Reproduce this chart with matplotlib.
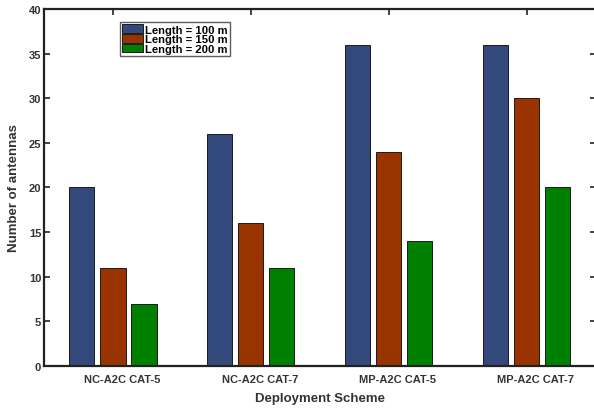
import matplotlib
matplotlib.use('Agg')
import matplotlib.pyplot as plt
import matplotlib.transforms as mtransforms
import numpy as np

SCHEMES   = ["NC-A2C CAT-5", "NC-A2C CAT-7", "MP-A2C CAT-5", "MP-A2C CAT-7"]
LENGTHS   = ["Length = 100 m", "Length = 150 m", "Length = 200 m"]
LEN_100   = [20, 26, 36, 36]
LEN_150   = [11, 16, 24, 30]
LEN_200   = [7, 11, 14, 20]
COLORS    = ["#33497c", "#993300", "#008000"]
Y_TICKS   = [0, 5, 10, 15, 20, 25, 30, 35, 40]

plt.rcParams['font.family'] = ['Liberation Sans', 'DejaVu Sans']
plt.rcParams['font.weight'] = 'bold'

fig = plt.figure(figsize=(5.94, 4.10), dpi=100)
ax = fig.add_axes([0.0741, 0.1049, 0.9285, 0.8707])

x = np.arange(1, len(SCHEMES) + 1)
pas = 0.225
largeur = 0.182
series = [LEN_100, LEN_150, LEN_200]
for i, (vals, col, lab) in enumerate(zip(series, COLORS, LENGTHS)):
    ax.bar(x + (i - 1) * pas, vals, width=largeur, color=col,
           edgecolor='#1a1a1a', linewidth=0.7, label=lab, zorder=2)

ax.set_xlim(0.5, 4.5)
ax.set_ylim(0, 40)
ax.set_yticks(Y_TICKS)
ax.set_yticklabels([str(v) for v in Y_TICKS], fontsize=8, fontweight='bold')
ax.set_xticks(x)
ax.set_xticklabels([])

# noms des schémas, un peu décalés à droite de chaque tick
decalage = mtransforms.ScaledTranslation(9 / 100, -8 / 100, fig.dpi_scale_trans)
for xi, nom in zip(x, SCHEMES):
    ax.text(xi, 0, nom, transform=ax.get_xaxis_transform() + decalage,
            ha='center', va='top', fontsize=8, fontweight='bold', color='#333333')

ax.tick_params(direction='in', length=4, width=1.2, top=True, right=True,
               pad=2, colors='#222222', labelcolor='#333333')
for s in ax.spines.values():
    s.set_linewidth(1.6)
    s.set_color('#222222')

ax.set_ylabel("Number of antennas", fontsize=9.5, fontweight='bold', color='#333333', labelpad=6)
ax.set_xlabel("Deployment Scheme", fontsize=9.5, fontweight='bold', color='#333333', labelpad=17)

leg = ax.legend(loc='upper left', bbox_to_anchor=(0.137, 0.963),
                frameon=True, fancybox=False, handlelength=1.9, handleheight=0.75,
                handletextpad=0.2, labelspacing=-0.02, borderpad=0.2,
                borderaxespad=0.0, prop={'weight': 'bold', 'size': 8.1})
leg.get_frame().set_edgecolor('#333333')
leg.get_frame().set_linewidth(1.0)

fig.savefig("out.png", dpi=100)
